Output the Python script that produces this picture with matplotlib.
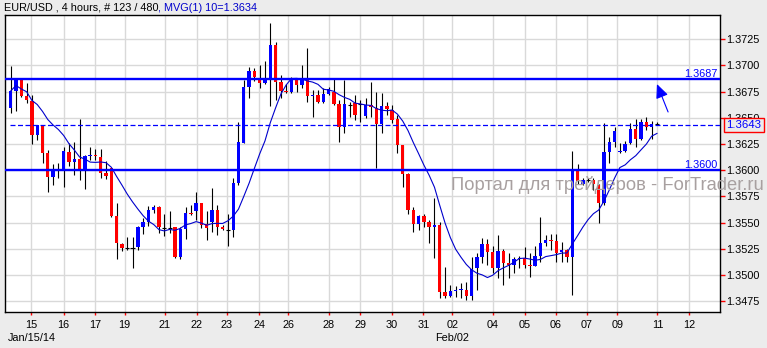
import numpy as np
import pandas as pd
import matplotlib
matplotlib.use("Agg")
import matplotlib.pyplot as plt
import matplotlib.transforms as mtransforms

# ---- data (EUR/USD, 4 hours) ----
opens = [1.36596, 1.36755, 1.36860, 1.36707, 1.36662, 1.36335, 1.36431, 1.36161, 1.35938, 1.36011,
         1.36002, 1.36174, 1.36081, 1.36110, 1.36002, 1.36140, 1.36145, 1.36129, 1.35976, 1.36018,
         1.35566, 1.35297, 1.35258, 1.35255, 1.35265, 1.35456, 1.35509, 1.35621, 1.35646, 1.35447,
         1.35445, 1.35456, 1.35176, 1.35437, 1.35595, 1.35614, 1.35690, 1.35485, 1.35509, 1.35621,
         1.35456, 1.35432, 1.35430, 1.35875, 1.36262, 1.36796, 1.36945, 1.36869, 1.36828, 1.36860,
         1.37193, 1.36843, 1.36755, 1.36748, 1.36860, 1.36812, 1.36882, 1.36707, 1.36717, 1.36647,
         1.36726, 1.36742, 1.36628, 1.36415, 1.36628, 1.36638, 1.36625, 1.36519, 1.36621, 1.36590,
         1.36440, 1.36612, 1.36574, 1.36485, 1.36240, 1.35964, 1.35621, 1.35487, 1.35564, 1.35509,
         1.35456, 1.35478, 1.34842, 1.34801, 1.34852, 1.34858, 1.34858, 1.34801, 1.35065, 1.35176,
         1.35297, 1.35223, 1.35065, 1.35230, 1.35119, 1.35097, 1.35150, 1.35160, 1.35097, 1.35087,
         1.35182, 1.35303, 1.35335, 1.35325, 1.35223, 1.35240, 1.35170, 1.35995, 1.35869, 1.35907,
         1.35907, 1.35859, 1.35685, 1.36176, 1.36272, 1.36170, 1.36186, 1.36256, 1.36390, 1.36294,
         1.36462, 1.36409, 1.36440]
highs = [1.36993, 1.36879, 1.36879, 1.36834, 1.36717, 1.36431, 1.36434, 1.36192, 1.36059, 1.36066,
         1.36218, 1.36262, 1.36272, 1.36488, 1.36145, 1.36218, 1.36199, 1.36199, 1.36088, 1.36018,
         1.35685, 1.35303, 1.35366, 1.35366, 1.35468, 1.35542, 1.35659, 1.35668, 1.35659, 1.35583,
         1.35614, 1.35461, 1.35456, 1.35652, 1.35668, 1.35795, 1.35690, 1.35614, 1.35827, 1.35668,
         1.35478, 1.35583, 1.35923, 1.36462, 1.36860, 1.36986, 1.36977, 1.37003, 1.37041, 1.37400,
         1.37225, 1.36907, 1.36819, 1.36891, 1.36882, 1.37003, 1.37162, 1.36764, 1.36764, 1.36781,
         1.36796, 1.36876, 1.36669, 1.36860, 1.36653, 1.36717, 1.36669, 1.36685, 1.36838, 1.36748,
         1.36739, 1.36653, 1.36621, 1.36526, 1.36240, 1.35970, 1.35646, 1.35573, 1.35583, 1.35526,
         1.35732, 1.35509, 1.35080, 1.34906, 1.34896, 1.34928, 1.34937, 1.35176, 1.35214, 1.35351,
         1.35341, 1.35278, 1.35382, 1.35246, 1.35214, 1.35176, 1.35182, 1.35265, 1.35208, 1.35278,
         1.35551, 1.35382, 1.35392, 1.35392, 1.35319, 1.35246, 1.36180, 1.36059, 1.35923, 1.35923,
         1.35923, 1.35869, 1.36447, 1.36319, 1.36415, 1.36256, 1.36281, 1.36447, 1.36485, 1.36485,
         1.36504, 1.36472, 1.36462]
lows = [1.36548, 1.36567, 1.36700, 1.36643, 1.36253, 1.36288, 1.36066, 1.35795, 1.35859, 1.35929,
        1.35843, 1.36043, 1.35954, 1.35907, 1.35818, 1.36097, 1.36097, 1.35923, 1.35913, 1.35557,
        1.35154, 1.35230, 1.35240, 1.35065, 1.35240, 1.35392, 1.35468, 1.35595, 1.35399, 1.35370,
        1.35399, 1.35160, 1.35151, 1.35346, 1.35573, 1.35526, 1.35446, 1.35335, 1.35414, 1.35382,
        1.35430, 1.35278, 1.35366, 1.35859, 1.36256, 1.36685, 1.36850, 1.36786, 1.36820, 1.36615,
        1.36669, 1.36685, 1.36733, 1.36733, 1.36748, 1.36781, 1.36647, 1.36510, 1.36638, 1.36638,
        1.36717, 1.36621, 1.36272, 1.36352, 1.36510, 1.36478, 1.36462, 1.36495, 1.36510, 1.36018,
        1.36352, 1.36526, 1.36447, 1.36161, 1.35843, 1.35583, 1.35414, 1.35430, 1.35456, 1.35303,
        1.35160, 1.34779, 1.34779, 1.34796, 1.34796, 1.34779, 1.34763, 1.34763, 1.34858, 1.35113,
        1.35101, 1.35024, 1.34970, 1.34906, 1.34970, 1.35024, 1.35065, 1.35065, 1.34985, 1.35087,
        1.35128, 1.35278, 1.35240, 1.35128, 1.35128, 1.35128, 1.34811, 1.35866, 1.35860, 1.35890,
        1.35812, 1.35500, 1.35668, 1.36072, 1.36224, 1.36167, 1.36176, 1.36250, 1.36224, 1.36288,
        1.36383, 1.36294, 1.36440]
closes = [1.36755, 1.36860, 1.36707, 1.36669, 1.36335, 1.36431, 1.36167, 1.35938, 1.36014, 1.36002,
          1.36183, 1.36081, 1.36107, 1.36002, 1.36135, 1.36145, 1.36140, 1.35976, 1.35945, 1.35564,
          1.35303, 1.35261, 1.35255, 1.35257, 1.35456, 1.35509, 1.35621, 1.35652, 1.35456, 1.35445,
          1.35447, 1.35176, 1.35437, 1.35595, 1.35583, 1.35690, 1.35478, 1.35446, 1.35621, 1.35462,
          1.35437, 1.35430, 1.35875, 1.36272, 1.36796, 1.36945, 1.36891, 1.36828, 1.36860, 1.37193,
          1.36843, 1.36755, 1.36742, 1.36882, 1.36812, 1.36882, 1.36710, 1.36717, 1.36647, 1.36726,
          1.36774, 1.36628, 1.36415, 1.36628, 1.36625, 1.36526, 1.36628, 1.36621, 1.36599, 1.36437,
          1.36612, 1.36580, 1.36478, 1.36240, 1.35964, 1.35621, 1.35487, 1.35564, 1.35509, 1.35456,
          1.35478, 1.34842, 1.34801, 1.34852, 1.34858, 1.34865, 1.34801, 1.35058, 1.35176, 1.35297,
          1.35223, 1.35065, 1.35233, 1.35119, 1.35097, 1.35157, 1.35160, 1.35097, 1.35087, 1.35182,
          1.35303, 1.35335, 1.35325, 1.35214, 1.35240, 1.35170, 1.35995, 1.35900, 1.35907, 1.35904,
          1.35866, 1.35685, 1.36176, 1.36272, 1.36376, 1.36176, 1.36250, 1.36390, 1.36294, 1.36462,
          1.36409, 1.36440, 1.36437]

ma_period = 10
ytick_values = [1.3475, 1.3500, 1.3525, 1.3550, 1.3575, 1.3600, 1.3625, 1.3650, 1.3675, 1.3700, 1.3725]
xtick_bars = [3.9, 10.0, 16.0, 21.5, 29.1, 35.1, 40.8, 46.9, 52.4, 60.0, 66.0, 71.9, 77.9, 83.4,
              91.0, 97.0, 102.9, 108.8, 114.5, 122.1, 128.0]
xtick_labels = ["15", "16", "17", "19", "21", "22", "23", "24", "26", "28", "29", "30", "31", "02",
                "04", "05", "06", "07", "09", "11", "12"]
month_labels = ["Jan/15/14", "Feb/02"]
month_bars = [3.9, 83.4]
level_values = [1.3687, 1.3600]
current_price = 1.3643
ma_last = 1.3634
arrow_from = (124.1, 1.36555)
arrow_to = (122.0, 1.36821)

FONT = "Liberation Sans"
BG = "#ececec"

fig = plt.figure(figsize=(7.67, 3.48), dpi=100, facecolor=BG)
ax = fig.add_axes([5 / 767, 36 / 348, 715 / 767, 297 / 348])
ax.set_facecolor("white")

o = np.array(opens); h = np.array(highs); l = np.array(lows); c = np.array(closes)
x = np.arange(len(o))

# grid
ax.set_axisbelow(True)
ax.grid(True, color="#d9d9d9", lw=1.0)

# wicks
ax.vlines(x, l, h, color="black", lw=0.8, zorder=2)

# bodies
diff = c - o
doji = np.abs(diff) < 0.00004
colors = np.where(diff >= 0, "#0000ff", "#ff0000")
height = np.where(np.abs(diff) < 0.00009, np.where(diff >= 0, 0.00009, -0.00009), diff)
ax.bar(x[~doji], height[~doji], bottom=o[~doji], width=0.64, color=colors[~doji],
       linewidth=0, zorder=3)
ax.hlines(c[doji], x[doji] - 0.4, x[doji] + 0.4, color="black", lw=0.8, zorder=3)

# moving average
ma = pd.Series(c).rolling(ma_period, min_periods=1).mean()
ax.plot(x, ma, color="#0000cc", lw=0.8, zorder=4)

# horizontal levels
for v in level_values:
    ax.axhline(v, color="#0000ff", lw=1.7, zorder=5)
    ax.text(0.997, v, f"{v:.4f}", transform=mtransforms.blended_transform_factory(ax.transAxes, ax.transData),
            ha="right", va="bottom", color="#0000ff", fontsize=7.8, family=FONT, zorder=6)
ax.hlines(current_price, -0.1, 140, color="#0000ff", lw=0.9, linestyles=(0, (4, 2)), zorder=5)

# arrow
ax.annotate("", xy=arrow_to, xytext=arrow_from,
            arrowprops=dict(arrowstyle="-|>,head_length=0.85,head_width=0.38",
                            color="#0000ff", lw=0.8, shrinkA=0, shrinkB=0), zorder=6)

ax.set_xlim(-1.08, 133.9)
ax.set_ylim(1.34649, 1.37479)

# axes / ticks
for s in ax.spines.values():
    s.set_color("black"); s.set_linewidth(1.0)
ax.yaxis.tick_right()
ax.set_yticks(ytick_values)
ax.set_yticklabels([f"{v:.4f}" for v in ytick_values], family=FONT, fontsize=7.8)
ax.set_xticks(xtick_bars)
ax.set_xticklabels(xtick_labels, family=FONT, fontsize=7.8)
ax.tick_params(axis="y", colors="red", labelcolor="black", length=3.5, width=1, pad=1.2, right=True, left=False)
ax.tick_params(axis="x", colors="red", labelcolor="black", length=2.5, width=1, pad=3)

# month row
tb = mtransforms.blended_transform_factory(ax.transData, fig.transFigure)
for lab, b in zip(month_labels, month_bars):
    ax.text(b, 1 - 338 / 348, lab, transform=tb, ha="center", va="center",
            fontsize=7.8, family=FONT, color="black", clip_on=False)

# current price box (covers the 1.3650 label as in the original)
ax.annotate(f"{current_price:.4f}", xy=(1, current_price),
            xycoords=("axes fraction", "data"), xytext=(4.5, 0), textcoords="offset points",
            ha="left", va="center", color="#0000ff", fontsize=8.2, family=FONT,
            bbox=dict(boxstyle="square,pad=0.2", fc=BG, ec="red", lw=1.0),
            annotation_clip=False, zorder=10)

# header
t1 = fig.text(4 / 767, 1 - 8 / 348, "EUR/USD , 4 hours, # 123 / 480", ha="left", va="center",
              fontsize=7.8, family=FONT, color="black")
ax.annotate(f", MVG(1) {ma_period}={ma_last:.4f}", xy=(1, 0.5), xycoords=t1, ha="left", va="center",
            fontsize=7.8, family=FONT, color="#0000cc", annotation_clip=False)

# watermark
fig.text(451 / 767, 1 - 185 / 348, "Портал для трейдеров - ForTrader.ru", ha="left", va="center",
         fontsize=13.2, family=FONT, color="#a8a0a0", zorder=20)

fig.savefig("out.png", dpi=100, facecolor=BG)
